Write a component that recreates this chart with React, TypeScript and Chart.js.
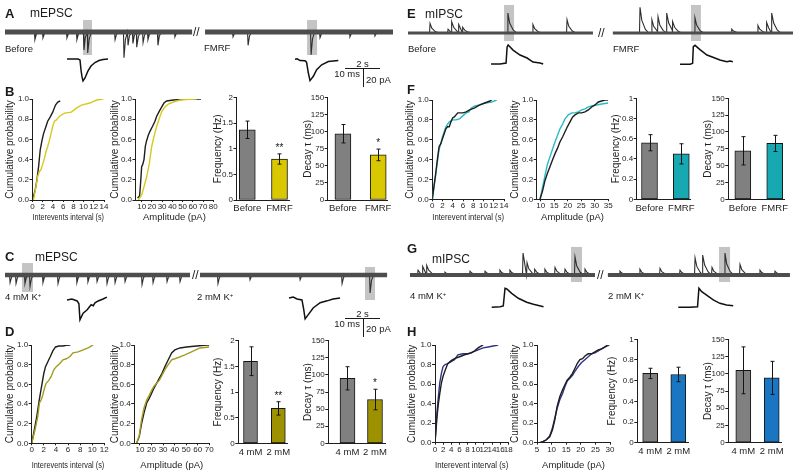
import React, { useEffect, useRef } from 'react';
import { Chart, registerables } from 'chart.js';

Chart.register(...registerables);

type Pt = [number, number];

const FONT = '"Liberation Sans", Arial, Helvetica, sans-serif';
const FONT_N = '"Liberation Sans Narrow", "Liberation Sans", Arial, sans-serif';
const INK = '#1e1e1e';
const BAR_GRAY = '#808080';

// ---------------- Panel A (mEPSC traces) ----------------
const aBeforeEvents: Pt[] = [[1.71, -8], [2.17, -6], [3.54, -6], [4.11, -8], [4.51, -19], [4.74, -22], [6.29, -8], [6.8, -27], [7.03, -14], [7.31, -12], [7.54, -16], [7.89, -11], [8.17, -8], [8.74, -14], [9.71, -5]];
const aFmrfEvents: Pt[] = [[13.03, -5], [13.89, -14], [17.49, -24], [18.0, -6], [19.71, -5], [21.14, -4]];
const aBoxes = [[4.46, 4.97, 12.6, -24.2], [17.26, 17.83, 12.6, -24.2]];
const aAvgBefore: Pt[] = [[0, 0], [3.14, 0], [3.71, -1], [4.0, -11.6], [4.29, -18.9], [4.57, -23.2], [5.14, -20], [6.0, -12.6], [6.86, -7.4], [8.0, -3.7], [9.14, -1.6], [10.29, -0.5], [11.71, 0]];
const aAvgFmrf: Pt[] = [[0, 1.3], [0.6, 1.6], [1.43, -0.2], [2.86, -0.5], [3.3, -2], [3.81, -13.5], [4.29, -21.6], [5.24, -17], [6.19, -10], [7.62, -4.7], [9.52, -1.3], [12.38, -0.2]];

// ---------------- Panel B ----------------
const bIntBefore: Pt[] = [[0, 0], [0.53, 0.1], [0.87, 0.2], [1.19, 0.33], [1.52, 0.5], [1.86, 0.59], [2.18, 0.66], [2.65, 0.73], [2.97, 0.78], [3.45, 0.82], [3.96, 0.87], [4.5, 0.94], [4.95, 0.97], [5.43, 0.98]];
const bIntFmrf: Pt[] = [[0.2, 0], [0.67, 0.13], [0.99, 0.23], [1.33, 0.28], [1.66, 0.3], [1.98, 0.35], [2.32, 0.41], [2.65, 0.48], [2.97, 0.53], [3.31, 0.59], [3.64, 0.66], [3.96, 0.73], [4.3, 0.78], [4.63, 0.79], [5.29, 0.83], [6.28, 0.86], [7.6, 0.87], [8.59, 0.91], [9.58, 0.94], [11.23, 0.96], [12.55, 0.99], [13.86, 1.0]];
const bAmpBefore: Pt[] = [[6.0, 0.02], [8.0, 0.04], [9.2, 0.2], [10, 0.33], [11, 0.35], [12.3, 0.4], [13.6, 0.53], [14.9, 0.59], [16.5, 0.64], [18.1, 0.68], [20.7, 0.73], [23, 0.78], [24.7, 0.83], [27.3, 0.88], [29.5, 0.92], [31.8, 0.96], [34.4, 0.98], [40.9, 0.99], [53.9, 1.0], [68, 1.0]];
const bAmpFmrf: Pt[] = [[6.7, 0], [10, 0.05], [12.3, 0.13], [14.9, 0.23], [17.5, 0.36], [19.8, 0.53], [22.1, 0.63], [24.7, 0.73], [27.3, 0.81], [29.9, 0.88], [32.8, 0.92], [36.1, 0.95], [40.9, 0.97], [47.5, 0.99], [57.2, 0.998], [63.7, 1.0]];
const bConds = ['Before', 'FMRF'];
const bFreq = [1.37, 0.8];
const bFreqErr = [0.17, 0.1];
const bFreqStars = ['', '**'];
const bDecay = [97, 66];
const bDecayErr = [13.5, 8.5];
const bDecayStars = ['', '*'];

// ---------------- Panel C (mEPSC, K+) ----------------
const c4mmEvents: Pt[] = [[0.29, -8], [0.63, -9], [1.14, -9], [1.43, -12], [2.17, -8], [3.03, -9], [4.11, -8], [4.74, -7], [5.26, -7], [5.83, -9], [6.29, -8], [6.86, -7], [7.83, -10], [8.46, -8], [9.26, -7], [10.0, -7]];
const c2mmEvents: Pt[] = [[12.17, -9], [14.0, -5], [16.86, -5], [19.26, -9], [20.86, -19]];
const cBoxes = [[0.97, 1.6, 12.6, -17.9], [20.57, 21.14, 8.4, -26.3]];
const cAvg4mm: Pt[] = [[0, 0], [1.4, 1], [2.9, -1], [3.4, -4], [3.7, -21], [4.6, -14], [5.7, -10.5], [6.9, -5], [7.5, -6], [8, -3], [8.9, -1], [10.3, 1], [11.4, 3]];
const cAvg2mm: Pt[] = [[0, 0], [1.2, 1], [2.3, -1], [3.7, -2], [4.2, -12], [4.6, -22], [5.4, -18], [6.9, -10.5], [8.9, -5], [10.9, -3], [12.6, -1], [14.6, 0]];

// ---------------- Panel D ----------------
const dIntBlack: Pt[] = [[0, 0], [0.44, 0.14], [0.83, 0.27], [1.17, 0.41], [1.44, 0.51], [1.72, 0.61], [2.0, 0.71], [2.28, 0.78], [2.67, 0.83], [3.06, 0.88], [3.5, 0.94], [3.94, 0.98], [4.5, 0.99], [5.17, 0.99], [5.72, 0.997], [6.39, 1.0]];
const dIntOlive: Pt[] = [[0, 0], [0.56, 0.14], [1.0, 0.27], [1.28, 0.41], [1.56, 0.44], [1.83, 0.49], [2.11, 0.56], [2.39, 0.61], [2.83, 0.64], [3.22, 0.68], [3.67, 0.75], [4.06, 0.78], [4.61, 0.81], [5.17, 0.85], [5.72, 0.86], [6.28, 0.88], [6.83, 0.92], [7.67, 0.93], [8.5, 0.95], [9.33, 0.97], [10.17, 1.0]];
const dAmpBlack: Pt[] = [[7.1, 0], [9.4, 0.07], [11.4, 0.2], [13.5, 0.31], [15.8, 0.41], [18.1, 0.46], [20.1, 0.51], [22.1, 0.56], [24.4, 0.61], [26.7, 0.66], [29.0, 0.71], [31.6, 0.78], [34.5, 0.85], [37.4, 0.92], [40.2, 0.95], [44.6, 0.97], [50.3, 0.98], [59, 0.99], [67.6, 1.0], [70, 1.0]];
const dAmpOlive: Pt[] = [[7.1, 0], [9.4, 0.08], [11.4, 0.24], [13.5, 0.36], [15.8, 0.44], [18.1, 0.49], [20.1, 0.54], [22.1, 0.58], [24.4, 0.61], [26.7, 0.64], [29, 0.69], [31.6, 0.75], [34.5, 0.8], [37.4, 0.85], [40.2, 0.86], [44.6, 0.88], [48.9, 0.9], [54.6, 0.93], [61.9, 0.97], [70, 0.98]];
const dConds = ['4 mM', '2 mM'];
const dFreq = [1.6, 0.68];
const dFreqErr = [0.28, 0.13];
const dFreqStars = ['', '**'];
const dDecay = [95, 64];
const dDecayErr = [17, 15];
const dDecayStars = ['', '*'];

// ---------------- Panel E (mIPSC traces) ----------------
const eBeforeEvents: Pt[] = [[1.26, 10], [2.29, 4], [2.51, 12], [2.91, 9], [3.14, 6], [5.71, 21], [7.14, 9], [9.09, 14]];
const eFmrfEvents: Pt[] = [[13.26, 27], [13.94, 14], [14.29, 17], [14.8, 21], [15.14, 12], [16.4, 16], [18.5, 4], [20.0, 8], [20.51, 11], [20.8, 21]];
const eBoxes = [[5.49, 6.06, 29.5, -8.4], [16.17, 16.74, 29.5, -8.4]];
const eAvgBefore: Pt[] = [[0, 0], [2.6, 0], [4.3, 1], [4.6, 18], [4.9, 20], [6.3, 14.7], [8.3, 9.5], [10.3, 6.3], [12, 2], [14, 1], [14.9, 0]];
const eAvgFmrf: Pt[] = [[0, 0], [2.9, 0], [3.6, 1], [3.8, 18.5], [4.3, 20], [5.7, 15.5], [7.7, 9.8], [9.4, 7.4], [11.4, 4.5], [13.4, 2.7], [14.3, 3.5], [15.1, 2.7]];

// ---------------- Panel F ----------------
const fIntBlack: Pt[] = [[0, 0], [0.33, 0.13], [0.66, 0.26], [0.99, 0.4], [1.32, 0.53], [1.66, 0.56], [1.99, 0.61], [2.32, 0.66], [2.65, 0.71], [2.98, 0.73], [3.31, 0.73], [3.64, 0.78], [3.97, 0.82], [4.3, 0.83], [4.97, 0.87], [5.96, 0.87], [6.62, 0.88], [7.28, 0.9], [8.28, 0.92], [9.27, 0.95], [10.26, 0.97], [11.26, 0.99], [11.59, 1.0]];
const fIntCyan: Pt[] = [[0, 0], [0.33, 0.13], [0.66, 0.24], [0.99, 0.38], [1.32, 0.5], [1.66, 0.56], [1.99, 0.63], [2.32, 0.68], [2.65, 0.73], [3.31, 0.78], [3.97, 0.8], [4.64, 0.8], [5.3, 0.81], [5.96, 0.84], [6.62, 0.87], [7.15, 0.88], [7.62, 0.92], [8.28, 0.94], [9.27, 0.95], [10.26, 0.97], [11.59, 0.98], [12.58, 1.0]];
const fAmpBlack: Pt[] = [[9.75, 0], [10.74, 0.09], [11.6, 0.19], [12.46, 0.26], [13.45, 0.33], [14.43, 0.4], [15.3, 0.46], [16.16, 0.51], [17.14, 0.58], [18.13, 0.63], [18.99, 0.68], [19.85, 0.73], [20.84, 0.78], [21.82, 0.83], [22.69, 0.85], [23.92, 0.87], [25.15, 0.87], [26.38, 0.88], [27.62, 0.9], [28.85, 0.93], [30.08, 0.95], [31.31, 0.98], [32.54, 0.99], [33.78, 1.0], [35, 1.0]];
const fAmpCyan: Pt[] = [[9.75, 0], [10.74, 0.13], [11.6, 0.24], [12.46, 0.35], [13.45, 0.43], [14.43, 0.51], [15.3, 0.58], [16.16, 0.64], [17.14, 0.71], [18.13, 0.76], [18.99, 0.81], [20.22, 0.85], [21.45, 0.87], [22.69, 0.87], [23.92, 0.88], [25.15, 0.9], [26.38, 0.91], [27.62, 0.93], [28.85, 0.94], [30.7, 0.95], [32.54, 0.96], [35, 0.97]];
const fFreq = [0.56, 0.45];
const fFreqErr = [0.08, 0.1];
const fDecay = [72, 83];
const fDecayErr = [21, 12];

// ---------------- Panel G (mIPSC, K+) ----------------
const g4mmEvents: Pt[] = [[0.46, 5], [0.74, 9], [0.97, 10], [2.0, 3], [3.43, 4], [4.29, 4], [5.14, 5], [5.71, 5], [6.46, 23], [6.69, 13], [7.14, 6], [7.71, 6], [8.29, 8], [8.86, 6], [9.43, 19], [10.0, 6]];
const g2mmEvents: Pt[] = [[12.0, 4], [13.14, 6], [14.29, 7], [15.43, 5], [16.29, 18], [16.74, 21], [17.26, 8], [18.0, 23], [18.86, 11], [20.0, 5], [20.86, 4]];
const gBoxes = [[9.2, 9.83, 29.5, -7.4], [17.66, 18.29, 29.5, -7.4]];
const gAvg4mm: Pt[] = [[0, 0], [2.4, 0.6], [3.3, 1.4], [3.8, 20], [4.3, 19.3], [5.7, 14.7], [7.6, 9.5], [10, 5.3], [11.9, 3.2], [14.8, 0.6]];
const gAvg2mm: Pt[] = [[0, 0], [3.3, 0], [5.5, 0.6], [5.9, 20], [6.7, 16.4], [8.1, 12.9], [10, 7.7], [11.9, 4.2], [13.8, 2.4], [15.7, 1.7]];

// ---------------- Panel H ----------------
const hIntBlack: Pt[] = [[0, 0], [0.25, 0.13], [0.5, 0.27], [0.83, 0.4], [1.16, 0.5], [1.57, 0.61], [1.98, 0.68], [2.48, 0.74], [3.14, 0.81], [3.97, 0.84], [4.79, 0.86], [6.03, 0.88], [7.27, 0.9], [8.1, 0.91], [8.93, 0.92], [9.75, 0.94], [10.58, 0.97], [11.4, 0.99], [11.82, 1.0]];
const hIntNavy: Pt[] = [[0, 0], [0.25, 0.16], [0.5, 0.32], [0.83, 0.47], [1.16, 0.61], [1.57, 0.71], [1.98, 0.78], [2.48, 0.8], [3.14, 0.81], [3.97, 0.83], [4.79, 0.85], [5.62, 0.9], [6.86, 0.91], [8.1, 0.91], [9.34, 0.93], [10.58, 0.95], [11.82, 0.97], [13.06, 0.98], [14.3, 0.99], [15.54, 1.0]];
const hAmpBlack: Pt[] = [[5.92, 0], [7.06, 0.01], [8.21, 0.03], [9.36, 0.06], [10.28, 0.13], [11.08, 0.23], [11.88, 0.37], [12.8, 0.47], [13.72, 0.54], [14.52, 0.59], [15.33, 0.64], [16.24, 0.67], [17.16, 0.71], [17.97, 0.76], [18.77, 0.81], [19.69, 0.85], [20.6, 0.86], [21.52, 0.89], [22.55, 0.91], [23.7, 0.91], [24.84, 0.93], [25.99, 0.95], [27.14, 0.96], [28.29, 0.98], [29.09, 1.0]];
const hAmpNavy: Pt[] = [[5.92, 0], [7.06, 0.01], [8.21, 0.03], [9.36, 0.07], [10.28, 0.15], [11.08, 0.25], [11.88, 0.35], [12.8, 0.44], [13.72, 0.5], [14.52, 0.57], [15.33, 0.63], [16.24, 0.66], [17.16, 0.69], [17.97, 0.73], [19.12, 0.78], [20.26, 0.82], [21.41, 0.85], [22.55, 0.88], [23.7, 0.91], [24.84, 0.92], [25.99, 0.94], [27.14, 0.96], [28.29, 0.98], [29.78, 1.0]];
const hFreq = [0.67, 0.66];
const hFreqErr = [0.05, 0.07];
const hDecay = [105, 94];
const hDecayErr = [34, 24];

// ---------------- colours ----------------
const YELLOW = '#d9c700';
const YELLOW_LINE = '#d6c91e';
const OLIVE = '#9d9100';
const OLIVE_LINE = '#a29b20';
const TEAL = '#17a8b2';
const TEAL_LINE = '#2bbac6';
const BLUE = '#1a76c2';
const NAVY_LINE = '#2e3587';

// ---------------- helpers ----------------
const numTickFont = { family: FONT_N, size: 8 };
const catTickFont = { family: FONT_N, size: 9.5 };
const xTitleFont = { family: FONT_N, size: 9.5 };
const yTitleFont = { family: FONT, size: 10 };
const toXY = (p: Pt[]) => p.map(([x, y]) => ({ x, y }));

const baseOpts: any = {
  animation: false,
  responsive: false,
  maintainAspectRatio: false,
  events: [],
  plugins: { legend: { display: false }, tooltip: { enabled: false } },
};

type Geo = { L: number; R: number; T: number; B: number; yt: number; xt?: number };

function frame(g: Geo, extraRight: number) {
  const left = Math.round(g.yt - 6);
  const top = Math.round(g.T - 8);
  const right = Math.round(g.R + extraRight);
  const bottom = Math.round(g.xt !== undefined ? g.xt + 6 : g.B + 17);
  return {
    left, top, width: right - left, height: bottom - top,
    yW: g.L - left, xH: bottom - g.B, padR: right - g.R, padT: g.T - top,
  };
}

function yAxis(f: any, max: number, step: number, title: string, fmt: (v: number) => string) {
  return {
    type: 'linear', min: 0, max,
    afterFit: (s: any) => { s.width = f.yW; },
    border: { display: true, color: INK, width: 1 },
    grid: { display: true, drawOnChartArea: false, drawTicks: true, tickLength: 3, color: INK },
    ticks: { stepSize: step, padding: 0.5, color: INK, font: numTickFont, callback: (v: any) => fmt(Number(v)) },
    title: { display: true, text: title, color: INK, font: yTitleFont, padding: 0 },
  };
}

function cdfChart(g: Geo, first: Pt[], second: Pt[], c1: string, c2: string, xr: number[], xTitle: string) {
  const f = frame(g, 8);
  const make = () => ({
    type: 'line',
    data: {
      datasets: [
        { data: toXY(first), borderColor: c1, borderWidth: 1.4, pointRadius: 0, tension: 0 },
        { data: toXY(second), borderColor: c2, borderWidth: 1.4, pointRadius: 0, tension: 0 },
      ],
    },
    options: {
      ...baseOpts,
      layout: { padding: { top: f.padT, right: f.padR, left: 0, bottom: 0 } },
      scales: {
        x: {
          type: 'linear', min: xr[0], max: xr[1],
          afterFit: (s: any) => { s.height = f.xH; },
          border: { display: true, color: INK, width: 1 },
          grid: { display: true, drawOnChartArea: false, drawTicks: true, tickLength: 2, color: INK },
          ticks: { stepSize: xr[2], includeBounds: false, autoSkip: false, maxRotation: 0, minRotation: 0, padding: 0, color: INK, font: numTickFont },
          title: { display: true, text: xTitle, color: INK, font: xTitleFont, padding: 0 },
        },
        y: yAxis(f, 1, 0.2, 'Cumulative probability', (v) => v.toFixed(1)),
      },
    },
  });
  return { box: [f.left, f.top, f.width, f.height], make };
}

function errPlugin(vals: number[], errs: number[], stars: string[]) {
  return {
    id: 'errbars',
    afterDatasetsDraw(chart: any) {
      const { ctx } = chart;
      const ys = chart.scales.y;
      const meta = chart.getDatasetMeta(0);
      ctx.save();
      ctx.strokeStyle = '#151515';
      ctx.fillStyle = '#151515';
      ctx.lineWidth = 1;
      meta.data.forEach((el: any, i: number) => {
        const x = Math.round(el.x) + 0.5;
        const yHi = ys.getPixelForValue(vals[i] + errs[i]);
        const yLo = ys.getPixelForValue(vals[i] - errs[i]);
        ctx.beginPath();
        ctx.moveTo(x, yLo); ctx.lineTo(x, yHi);
        ctx.moveTo(x - 2, yHi); ctx.lineTo(x + 2, yHi);
        ctx.moveTo(x - 2, yLo); ctx.lineTo(x + 2, yLo);
        ctx.stroke();
        if (stars[i]) {
          ctx.font = `10px ${FONT}`;
          ctx.textAlign = 'center';
          ctx.textBaseline = 'alphabetic';
          ctx.fillText(stars[i], el.x, yHi - 3);
        }
      });
      ctx.restore();
    },
  };
}

function barChart(g: Geo, xr: number[], thick: number, labels: string[], vals: number[], errs: number[], stars: string[], colors: string[], yMax: number, yStep: number, title: string, fmt: (v: number) => string) {
  const f = frame(g, 14);
  const make = () => ({
    type: 'bar',
    data: {
      datasets: [{
        data: vals.map((v, i) => ({ x: i + 1, y: v })),
        backgroundColor: colors, borderColor: '#151515', borderWidth: 1, barThickness: thick, borderSkipped: false,
      }],
    },
    options: {
      ...baseOpts,
      layout: { padding: { top: f.padT, right: f.padR, left: 0, bottom: 0 } },
      scales: {
        x: {
          type: 'linear', min: xr[0], max: xr[1], offset: false,
          afterFit: (s: any) => { s.height = f.xH; },
          afterBuildTicks: (s: any) => { s.ticks = labels.map((_, i) => ({ value: i + 1 })); },
          border: { display: true, color: INK, width: 1 },
          grid: { display: false, drawTicks: false, tickLength: 0, offset: false },
          ticks: { autoSkip: false, maxRotation: 0, minRotation: 0, padding: 3, color: INK, font: catTickFont, callback: (v: any) => labels[Math.round(Number(v)) - 1] },
        },
        y: yAxis(f, yMax, yStep, title, fmt),
      },
    },
    plugins: [errPlugin(vals, errs, stars)],
  });
  return { box: [f.left, f.top, f.width, f.height], make };
}

function eventPath(range: number[], ev: Pt[], slow: boolean) {
  const pts: { x: number; y: number }[] = [{ x: range[0], y: 0 }];
  ev.forEach(([t, a], i) => {
    const next = i + 1 < ev.length ? ev[i + 1][0] - 0.03 : range[1];
    pts.push({ x: t - 0.03, y: 0 }, { x: t, y: a });
    if (slow) {
      if (t + 0.1 < next) pts.push({ x: t + 0.1, y: a * 0.5 });
      if (t + 0.3 < next) pts.push({ x: t + 0.3, y: a * 0.15 });
      pts.push({ x: Math.min(t + 0.5, next), y: 0 });
    } else {
      if (t + 0.08 < next) pts.push({ x: t + 0.08, y: a * 0.3 });
      pts.push({ x: Math.min(t + 0.2, next), y: 0 });
    }
  });
  pts.push({ x: range[1], y: 0 });
  return pts;
}

function boxPlugin(boxes: number[][]) {
  return {
    id: 'greyboxes',
    beforeDatasetsDraw(chart: any) {
      const { ctx } = chart;
      const xs = chart.scales.x, ys = chart.scales.y;
      ctx.save();
      ctx.fillStyle = '#c4c4c4';
      boxes.forEach(([t0, t1, top, bot]) => {
        const x0 = xs.getPixelForValue(t0), x1 = xs.getPixelForValue(t1);
        const y0 = ys.getPixelForValue(top), y1 = ys.getPixelForValue(bot);
        ctx.fillRect(x0, y0, x1 - x0, y1 - y0);
      });
      ctx.restore();
    },
  };
}

function traceChart(box: number[], xMax: number, yr: number[], segs: { range: number[]; ev: Pt[] }[], slow: boolean, band: number, boxes: number[][]) {
  const datasets: any[] = [];
  segs.forEach((s) => {
    datasets.push({ data: [{ x: s.range[0], y: 0 }, { x: s.range[1], y: 0 }], borderColor: '#4d4d4d', borderWidth: band, pointRadius: 0 });
    datasets.push({ data: eventPath(s.range, s.ev, slow), borderColor: '#2e2e2e', borderWidth: 1.1, pointRadius: 0, tension: 0 });
  });
  const make = () => ({
    type: 'line',
    data: { datasets },
    options: {
      ...baseOpts,
      layout: { padding: 0 },
      scales: {
        x: { type: 'linear', display: false, min: 0, max: xMax },
        y: { type: 'linear', display: false, min: yr[0], max: yr[1] },
      },
    },
    plugins: [boxPlugin(boxes)],
  });
  return { box, make };
}

function avgChart(box: number[], xr: number[], yr: number[], pts: Pt[]) {
  const make = () => ({
    type: 'line',
    data: { datasets: [{ data: toXY(pts), borderColor: '#111', borderWidth: 1.5, pointRadius: 0, tension: 0 }] },
    options: {
      ...baseOpts,
      layout: { padding: 0 },
      scales: {
        x: { type: 'linear', display: false, min: xr[0], max: xr[1] },
        y: { type: 'linear', display: false, min: yr[0], max: yr[1] },
      },
    },
  });
  return { box, make };
}

const fmtG = (v: number) => String(Number(v.toFixed(2)));

// ---------------- chart list ----------------
const CHARTS = [
  // traces
  traceChart([5, 15, 388, 50], 22.17, [-34.7, 17.9], [{ range: [0, 10.69], ev: aBeforeEvents }, { range: [11.43, 22.17], ev: aFmrfEvents }], false, 5, aBoxes),
  traceChart([5, 255, 384, 45], 21.94, [-26.3, 21], [{ range: [0, 10.57], ev: c4mmEvents }, { range: [11.14, 21.83], ev: c2mmEvents }], false, 4.5, cBoxes),
  traceChart([408, 2, 386, 45], 22.06, [-14.7, 32.6], [{ range: [0, 10.57], ev: eBeforeEvents }, { range: [11.71, 22.0], ev: eFmrfEvents }], true, 3, eBoxes),
  traceChart([410, 240, 382, 50], 21.83, [-15.8, 36.8], [{ range: [0, 10.57], ev: g4mmEvents }, { range: [11.31, 21.71], ev: g2mmEvents }], true, 4, gBoxes),
  // averaged events
  avgChart([66, 54, 46, 31], [-0.29, 12.86], [-27.4, 5.26], aAvgBefore),
  avgChart([294, 54, 46, 31], [-0.29, 12.86], [-26.3, 6.8], aAvgFmrf),
  avgChart([66, 294, 45, 30], [-0.29, 12.57], [-25.3, 6.3], cAvg4mm),
  avgChart([288, 292, 55, 33], [-0.29, 15.43], [-28.4, 6.3], cAvg2mm),
  avgChart([490, 40, 56, 28], [-0.29, 15.71], [-4.2, 25.3], eAvgBefore),
  avgChart([679, 40, 57, 28], [-0.29, 16], [-3.9, 25.6], eAvgFmrf),
  avgChart([490, 284, 56, 27], [-0.49, 15.5], [-3.9, 24.5], gAvg4mm),
  avgChart([677, 284, 59, 27], [-0.37, 16.5], [-3.9, 24.5], gAvg2mm),
  // B
  cdfChart({ L: 32.5, R: 104, T: 99, B: 200, yt: 10, xt: 217 }, bIntFmrf, bIntBefore, YELLOW_LINE, INK, [0, 14, 2], 'Interevents interval (s)'),
  cdfChart({ L: 135.5, R: 213.3, T: 99, B: 200, yt: 115, xt: 217 }, bAmpFmrf, bAmpBefore, YELLOW_LINE, INK, [4, 80, 10], 'Amplitude (pA)'),
  barChart({ L: 236.5, R: 289, T: 97.5, B: 200, yt: 217.5 }, [0.665, 2.295], 16, bConds, bFreq, bFreqErr, bFreqStars, [BAR_GRAY, YELLOW], 2, 0.5, 'Frequency (Hz)', fmtG),
  barChart({ L: 327.7, R: 387, T: 97.5, B: 200, yt: 307.5 }, [0.569, 2.249], 16, bConds, bDecay, bDecayErr, bDecayStars, [BAR_GRAY, YELLOW], 150, 25, 'Decay τ (ms)', fmtG),
  // D
  cdfChart({ L: 31.7, R: 104.3, T: 345, B: 443.3, yt: 10, xt: 465 }, dIntOlive, dIntBlack, OLIVE_LINE, INK, [0, 12, 2], 'Interevents interval (s)'),
  cdfChart({ L: 134.2, R: 209.3, T: 345, B: 443.3, yt: 115, xt: 465 }, dAmpOlive, dAmpBlack, OLIVE_LINE, INK, [5, 70, 10], 'Amplitude (pA)'),
  barChart({ L: 238.3, R: 287, T: 340.7, B: 443.3, yt: 217.5 }, [0.561, 2.313], 14, dConds, dFreq, dFreqErr, dFreqStars, [BAR_GRAY, OLIVE], 2, 0.5, 'Frequency (Hz)', fmtG),
  barChart({ L: 328.3, R: 385, T: 340.7, B: 443.3, yt: 308 }, [0.302, 2.364], 15, dConds, dDecay, dDecayErr, dDecayStars, [BAR_GRAY, OLIVE], 150, 25, 'Decay τ (ms)', fmtG),
  // F
  cdfChart({ L: 432.3, R: 504, T: 100, B: 199.3, yt: 410, xt: 217 }, fIntBlack, fIntCyan, INK, TEAL_LINE, [0, 14, 2], 'Interevent interval (s)'),
  cdfChart({ L: 536.7, R: 608.3, T: 100, B: 199.3, yt: 515, xt: 217 }, fAmpBlack, fAmpCyan, INK, TEAL_LINE, [8.52, 35, 5], 'Amplitude (pA)'),
  barChart({ L: 636.7, R: 690, T: 98.3, B: 199.3, yt: 615.5 }, [0.597, 2.274], 16, bConds, fFreq, fFreqErr, ['', ''], [BAR_GRAY, TEAL], 1, 0.2, 'Frequency (Hz)', fmtG),
  barChart({ L: 728.3, R: 784, T: 98.3, B: 199.3, yt: 708 }, [0.545, 2.29], 16, bConds, fDecay, fDecayErr, ['', ''], [BAR_GRAY, TEAL], 150, 25, 'Decay τ (ms)', fmtG),
  // H
  cdfChart({ L: 435, R: 508.3, T: 345, B: 442.7, yt: 411.7, xt: 465 }, hIntBlack, hIntNavy, INK, NAVY_LINE, [0, 18, 2], 'Interevent interval (s)'),
  cdfChart({ L: 537, R: 610, T: 345, B: 442.7, yt: 515, xt: 465 }, hAmpBlack, hAmpNavy, INK, NAVY_LINE, [5, 30, 5], 'Amplitude (pA)'),
  barChart({ L: 637.3, R: 688, T: 339.3, B: 442.7, yt: 612 }, [0.541, 2.345], 15, dConds, hFreq, hFreqErr, ['', ''], [BAR_GRAY, BLUE], 1, 0.2, 'Frequency (Hz)', fmtG),
  barChart({ L: 728.3, R: 781, T: 339.3, B: 442.7, yt: 707.5 }, [0.472, 2.327], 15, dConds, hDecay, hDecayErr, ['', ''], [BAR_GRAY, BLUE], 150, 25, 'Decay τ (ms)', fmtG),
];

// ---------------- components ----------------
function Plot({ box, make }: { box: number[]; make: () => any }) {
  const ref = useRef<HTMLCanvasElement | null>(null);
  useEffect(() => {
    const chart = new Chart(ref.current as HTMLCanvasElement, make());
    return () => chart.destroy();
  }, []);
  const [l, t, w, h] = box;
  return <canvas ref={ref} width={w} height={h} style={{ position: 'absolute', left: l, top: t, width: w, height: h }} />;
}

function Txt({ x, cy, size, children, bold, align }: any) {
  const style: any = {
    position: 'absolute', top: cy - size / 2, fontSize: size, lineHeight: `${size}px`,
    fontWeight: bold ? 700 : 400, whiteSpace: 'nowrap', color: '#1a1a1a', fontFamily: FONT,
  };
  if (align === 'right') style.right = 800 - x;
  else if (align === 'center') { style.left = x; style.transform = 'translateX(-50%)'; }
  else style.left = x;
  return <div style={style}>{children}</div>;
}

const Kp = ({ mm }: { mm: string }) => (
  <>{mm} mM K<span style={{ fontSize: 6, position: 'relative', top: -3 }}>+</span></>
);

function Line({ x, y, w, h }: any) {
  return <div style={{ position: 'absolute', left: x, top: y, width: w, height: h, background: '#1a1a1a' }} />;
}

export default function App() {
  return (
    <div style={{ position: 'absolute', left: 0, top: 0, width: 800, height: 473, background: '#fff', overflow: 'hidden', fontFamily: FONT }}>
      {CHARTS.map((c, i) => <Plot key={i} box={c.box} make={c.make} />)}

      {/* panel letters */}
      <Txt x={5} cy={13} size={13} bold>A</Txt>
      <Txt x={5} cy={91} size={13} bold>B</Txt>
      <Txt x={5} cy={256.5} size={13} bold>C</Txt>
      <Txt x={5} cy={331} size={13} bold>D</Txt>
      <Txt x={407} cy={13.5} size={13} bold>E</Txt>
      <Txt x={407} cy={89} size={13} bold>F</Txt>
      <Txt x={407} cy={248.5} size={13} bold>G</Txt>
      <Txt x={407} cy={331.5} size={13} bold>H</Txt>

      {/* trace titles & labels */}
      <Txt x={30} cy={13} size={12}>mEPSC</Txt>
      <Txt x={5} cy={49} size={9.5}>Before</Txt>
      <Txt x={204} cy={48} size={9.5}>FMRF</Txt>
      <Txt x={193} cy={32} size={12}>//</Txt>

      <Txt x={35} cy={256.5} size={12}>mEPSC</Txt>
      <Txt x={5} cy={297} size={9.5}><Kp mm="4" /></Txt>
      <Txt x={197} cy={297} size={9.5}><Kp mm="2" /></Txt>
      <Txt x={192} cy={275} size={12}>//</Txt>

      <Txt x={425} cy={13.5} size={12}>mIPSC</Txt>
      <Txt x={408} cy={49} size={9.5}>Before</Txt>
      <Txt x={613} cy={49} size={9.5}>FMRF</Txt>
      <Txt x={598} cy={33} size={12}>//</Txt>

      <Txt x={432} cy={258.5} size={12}>mIPSC</Txt>
      <Txt x={410} cy={295.5} size={9.5}><Kp mm="4" /></Txt>
      <Txt x={608} cy={295.5} size={9.5}><Kp mm="2" /></Txt>
      <Txt x={597} cy={275} size={12}>//</Txt>

      {/* scale bars A */}
      <Line x={345} y={68} w={35} h={1} />
      <Line x={362.5} y={68} w={1} h={19} />
      <Txt x={362.5} cy={63.5} size={9.5} align="center">2 s</Txt>
      <Txt x={360} cy={74} size={9.5} align="right">10 ms</Txt>
      <Txt x={366} cy={80} size={9.5}>20 pA</Txt>

      {/* scale bars C */}
      <Line x={345} y={318} w={35} h={1} />
      <Line x={362.5} y={318} w={1} h={19} />
      <Txt x={362.5} cy={313.5} size={9.5} align="center">2 s</Txt>
      <Txt x={360} cy={323.5} size={9.5} align="right">10 ms</Txt>
      <Txt x={366} cy={329} size={9.5}>20 pA</Txt>
    </div>
  );
}
